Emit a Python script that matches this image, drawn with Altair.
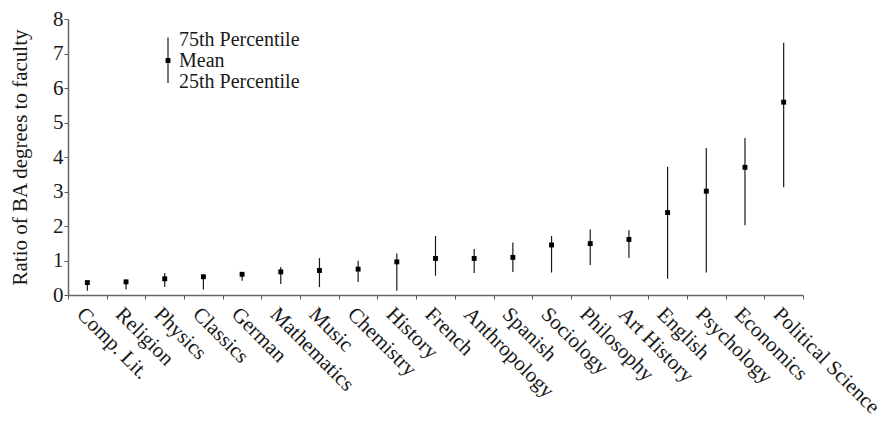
import altair as alt
import pandas as pd

fields = ["Comp. Lit.", "Religion", "Physics", "Classics", "German", "Mathematics",
          "Music", "Chemistry", "History", "French", "Anthropology", "Spanish",
          "Sociology", "Philosophy", "Art History", "English", "Psychology",
          "Economics", "Political Science"]
mean = [0.36, 0.38, 0.47, 0.53, 0.60, 0.67, 0.71, 0.75, 0.96, 1.06, 1.06, 1.09,
        1.45, 1.49, 1.61, 2.39, 3.01, 3.70, 5.59]
p75 = [0.38, 0.45, 0.64, 0.55, 0.67, 0.81, 1.07, 0.99, 1.20, 1.71, 1.33, 1.52,
       1.71, 1.90, 1.88, 3.72, 4.26, 4.55, 7.31]
p25 = [0.12, 0.16, 0.24, 0.16, 0.41, 0.32, 0.23, 0.38, 0.12, 0.56, 0.64, 0.67,
       0.65, 0.87, 1.07, 0.47, 0.65, 2.02, 3.12]
y_ticks = [0, 1, 2, 3, 4, 5, 6, 7, 8]

legend_labels = ["75th Percentile", "Mean", "25th Percentile"]

df = pd.DataFrame({"field": fields, "mean": mean, "p75": p75, "p25": p25})

FONT = "Liberation Serif"
INK = "#1a1a1a"

xaxis = alt.Axis(labelAngle=45, labelAlign="left", labelBaseline="top",
                 labelFont=FONT, labelFontSize=21, labelColor=INK,
                 labelPadding=4, tickBand="extent", tickSize=4,
                 tickColor="#555", domainColor="#666", domainWidth=1.5,
                 labelOverlap=False)
xscale = alt.Scale(paddingInner=0, paddingOuter=0)
yscale = alt.Scale(domain=[0, 8], nice=False)
yaxis = alt.Axis(values=y_ticks, tickCount=9, grid=False, labelOverlap=False,
                 labelFont=FONT, labelFontSize=21, labelColor=INK, labelPadding=1,
                 tickSize=4, tickColor="#555", domainColor="#666", domainWidth=1.5,
                 title="Ratio of BA degrees to faculty", titleFont=FONT,
                 titleFontSize=21, titleFontWeight="normal", titleColor=INK,
                 titlePadding=22)

base = alt.Chart(df)
rules = base.mark_rule(color=INK, strokeWidth=1.2).encode(
    x=alt.X("field:N", sort=fields, title=None, scale=xscale, axis=xaxis),
    y=alt.Y("p25:Q", scale=yscale, axis=yaxis),
    y2="p75:Q",
)
points = base.mark_square(color="black", size=24, opacity=1).encode(
    x=alt.X("field:N", sort=fields, title=None, scale=xscale, axis=xaxis),
    y=alt.Y("mean:Q", scale=yscale, axis=yaxis),
)

leg_rule = alt.Chart(pd.DataFrame({"a": [0]})).mark_rule(color=INK, strokeWidth=1.2).encode(
    x=alt.value(100), y=alt.value(18.5), y2=alt.value(64))
leg_pt = alt.Chart(pd.DataFrame({"a": [0]})).mark_square(color="black", size=24, opacity=1).encode(
    x=alt.value(100), y=alt.value(41.5))
leg_text = alt.layer(*[
    alt.Chart(pd.DataFrame({"label": [lab]})).mark_text(
        align="left", baseline="middle", font=FONT, fontSize=20, color=INK).encode(
        x=alt.value(111), y=alt.value(pos), text="label:N")
    for lab, pos in zip(legend_labels, [21, 42, 63])
])

chart = alt.layer(rules, points, leg_rule, leg_pt, leg_text).properties(
    width=735, height=276,
    autosize=alt.AutoSizeParams(type="none"),
    padding={"left": 60, "top": 11, "right": 76, "bottom": 125},
).configure_view(stroke=None)

chart.save("out.html", embed_options={"renderer": "svg", "actions": False})
